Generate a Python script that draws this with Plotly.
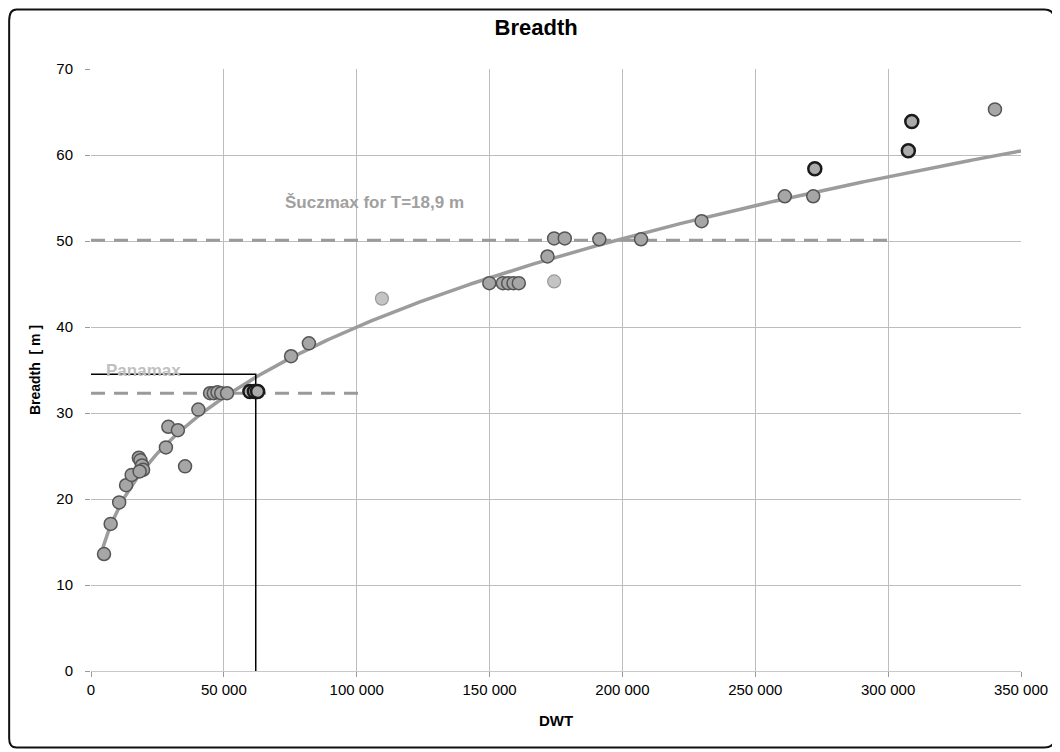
import numpy as np
import plotly.graph_objects as go

# ---- data ----
dwt_main = [4900, 7400, 10600, 13200, 15300, 18000, 18600, 19200, 19600, 18300,
            28200, 29100, 32700, 35400, 40400, 44800, 46200, 47600, 49000, 51200,
            75300, 82000, 149900, 155000, 157000, 159000, 161000, 171800,
            174300, 178300, 191300, 207000, 229800, 261100, 271800, 340200]
breadth_main = [13.6, 17.1, 19.6, 21.6, 22.8, 24.8, 24.5, 23.9, 23.4, 23.2,
                26.0, 28.4, 28.0, 23.8, 30.4, 32.3, 32.3, 32.4, 32.3, 32.3,
                36.6, 38.1, 45.1, 45.1, 45.1, 45.1, 45.1, 48.2,
                50.3, 50.3, 50.2, 50.2, 52.3, 55.2, 55.2, 65.3]

dwt_bold = [59800, 61500, 62700, 272400, 307600, 308900]
breadth_bold = [32.5, 32.5, 32.5, 58.4, 60.5, 63.9]

dwt_light = [109500, 174300]
breadth_light = [43.3, 45.3]

# power trendline B = a * (DWT/1e5)^b, coefficients
trend_a = 40.0
trend_b = 0.33
trend_x_range = [4500, 350000]

panamax_breadth = 32.3
panamax_x_end = 100800
suezmax_breadth = 50.1
suezmax_x_end = 300000
limit_dwt = 62000
limit_breadth = 34.5

x_ticks = [0, 50000, 100000, 150000, 200000, 250000, 300000, 350000]
x_ticktext = ["0", "50 000", "100 000", "150 000", "200 000", "250 000", "300 000", "350 000"]
y_ticks = [0, 10, 20, 30, 40, 50, 60, 70]

FONT = "Liberation Sans, Arial, sans-serif"

# ---- figure ----
fig = go.Figure()

# labels drawn first as paper annotations (layer order handled by plotly)
# reference dashed lines
for xe, yv in [(panamax_x_end, panamax_breadth), (suezmax_x_end, suezmax_breadth)]:
    fig.add_trace(go.Scatter(x=[0, xe], y=[yv, yv], mode="lines",
                             line=dict(color="#9a9a9a", width=3, dash="14px,9px"),
                             hoverinfo="skip", showlegend=False))

# trendline
tx = np.linspace(trend_x_range[0], trend_x_range[1], 300)
ty = trend_a * (tx / 100000.0) ** trend_b
fig.add_trace(go.Scatter(x=tx, y=ty, mode="lines",
                         line=dict(color="#9c9c9c", width=3.5),
                         hoverinfo="skip", showlegend=False))

# black limit lines
fig.add_trace(go.Scatter(x=[0, limit_dwt, limit_dwt], y=[limit_breadth, limit_breadth, 0],
                         mode="lines", line=dict(color="black", width=1.5),
                         hoverinfo="skip", showlegend=False))

# points
fig.add_trace(go.Scatter(x=dwt_main, y=breadth_main, mode="markers",
                         marker=dict(size=13, color="#a6a6a6",
                                     line=dict(color="#555555", width=1.5)),
                         showlegend=False))
fig.add_trace(go.Scatter(x=dwt_light, y=breadth_light, mode="markers",
                         marker=dict(size=13, color="#c4c4c4",
                                     line=dict(color="#9a9a9a", width=1.2)),
                         showlegend=False))
fig.add_trace(go.Scatter(x=dwt_bold, y=breadth_bold, mode="markers",
                         marker=dict(size=13, color="#ababab",
                                     line=dict(color="#1a1a1a", width=2.5)),
                         showlegend=False))

# labels
fig.add_annotation(x=0.305, y=0.779, xref="paper", yref="paper",
                   text="<b>Šuczmax for T=18,9 m</b>", showarrow=False,
                   font=dict(family=FONT, size=17, color="#a0a0a0"),
                   xanchor="center", yanchor="middle")
fig.add_annotation(x=0.014, y=0.499, xref="paper", yref="paper",
                   text="<b>Panamax</b>", showarrow=False,
                   font=dict(family=FONT, size=17, color="#c0c0c0"),
                   xanchor="left", yanchor="middle")

# outer rounded frame (paper coords: plot area is x 83..1013, y 61..663 px)
fig.add_shape(type="path", xref="paper", yref="paper",
              path="M -0.080,1.099 L 1.025,1.099 Q 1.036,1.099 1.036,1.080 L 1.036,-0.112 "
                   "Q 1.036,-0.127 1.025,-0.127 L -0.080,-0.127 Q -0.088,-0.127 -0.088,-0.112 "
                   "L -0.088,1.080 Q -0.088,1.099 -0.080,1.099 Z",
              line=dict(color="#111", width=2))

fig.update_layout(
    width=1052, height=744,
    margin=dict(l=83, r=39, t=61, b=81),
    paper_bgcolor="white", plot_bgcolor="white",
    title=dict(text="<b>Breadth</b>", x=0.502, y=0.974, xanchor="center", yanchor="middle",
               font=dict(family=FONT, size=22, color="black")),
    font=dict(family=FONT, size=15, color="black"),
)
fig.update_xaxes(range=[0, 350000], tickvals=x_ticks, ticktext=x_ticktext,
                 showgrid=True, gridcolor="#bdbdbd", gridwidth=1,
                 zeroline=False, showline=True, linecolor="#c8c8c8",
                 ticks="outside", ticklen=5, tickcolor="#999",
                 title=dict(text="<b>DWT</b>", font=dict(size=15), standoff=18),
                 tickfont=dict(size=15))
fig.update_yaxes(range=[0, 70], tickvals=y_ticks,
                 showgrid=True, gridcolor="#bdbdbd", gridwidth=1,
                 zeroline=False, showline=False,
                 ticks="outside", ticklen=5, tickcolor="#999", ticklabelstandoff=9,
                 title=dict(text="<b>Breadth  [ m ]</b>", font=dict(size=14), standoff=12),
                 tickfont=dict(size=15))

fig.write_html("out.html")
